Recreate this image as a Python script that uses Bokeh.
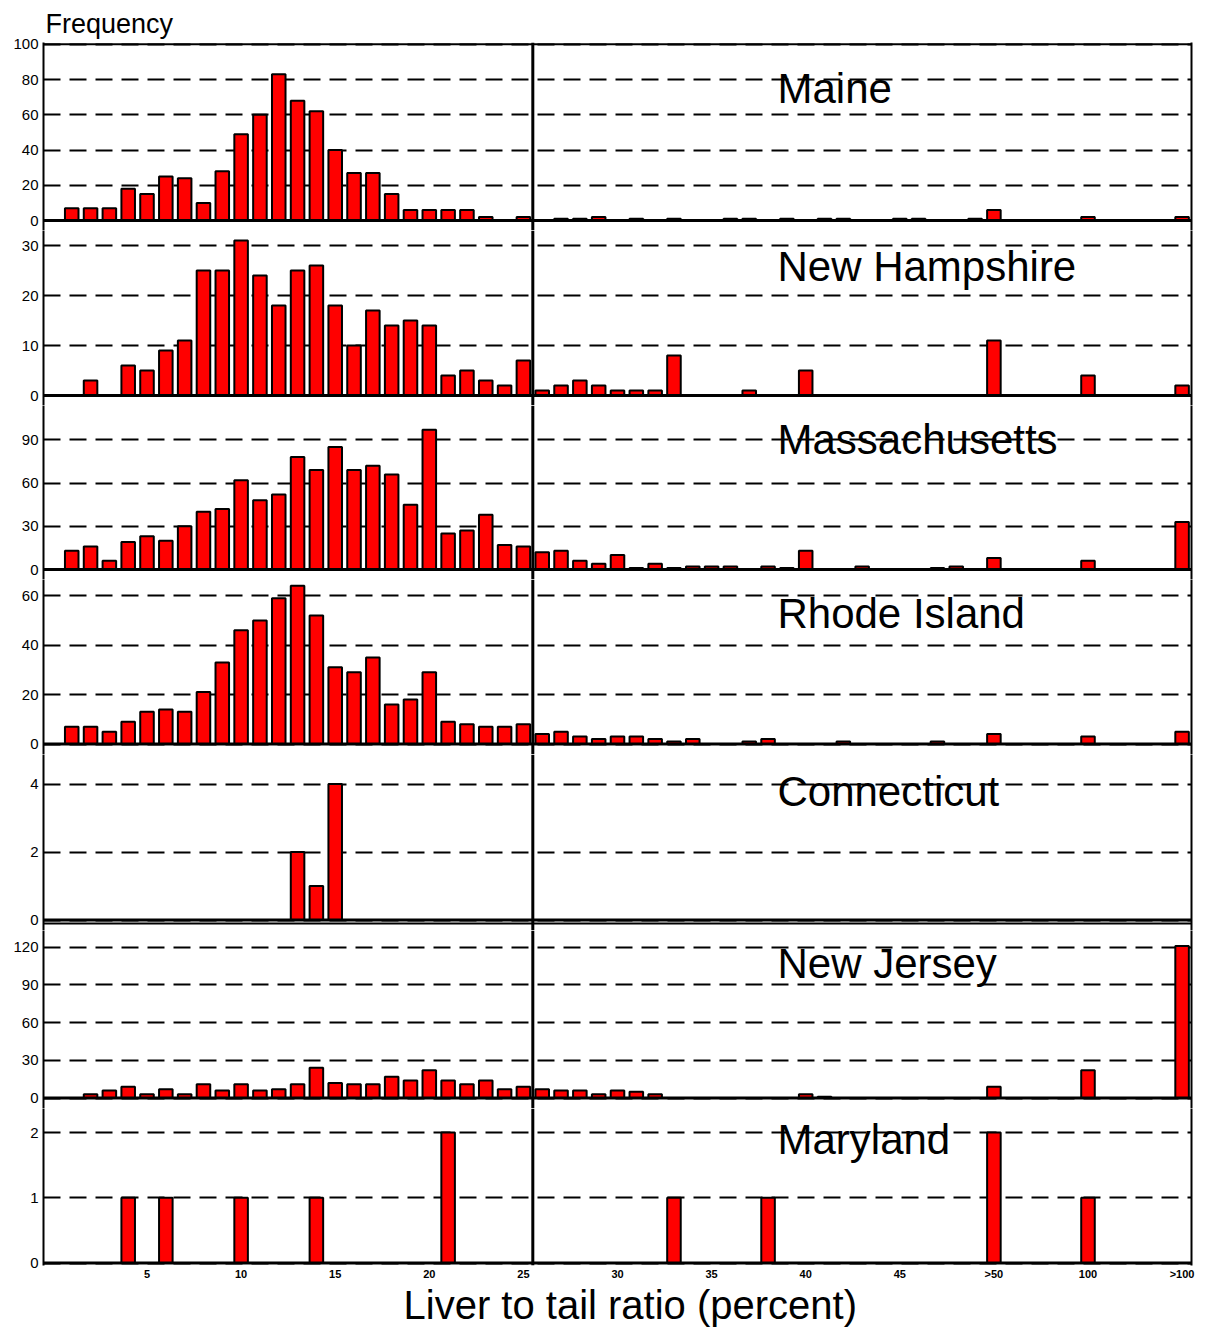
from bokeh.plotting import figure
from bokeh.layouts import column
from bokeh.models import Range1d, FixedTicker, LinearAxis, Span, Label, Title
from bokeh.embed import file_html
from bokeh.resources import INLINE

# ---------------------------------------------------------------------------
# Fish counts per liver-to-tail-ratio bin.  Bins 0..60: 0..49 are one percent
# wide, 50 holds ">50", 55 holds "100" and 60 holds ">100".
# ---------------------------------------------------------------------------
bins = list(range(61))

maine = [0, 7, 7, 7, 18, 15, 25, 24, 10, 28,
         49, 60, 83, 68, 62, 40, 27, 27, 15, 6,
         6, 6, 6, 2, 0, 2, 0, 1, 1, 2,
         0, 1, 0, 1, 0, 0, 1, 1, 0, 1,
         0, 1, 1, 0, 0, 1, 1, 0, 0, 1,
         6, 0, 0, 0, 0, 2, 0, 0, 0, 0, 2]

new_hampshire = [0, 0, 3, 0, 6, 5, 9, 11, 25, 25,
                 31, 24, 18, 25, 26, 18, 10, 17, 14, 15,
                 14, 4, 5, 3, 2, 7, 1, 2, 3, 2,
                 1, 1, 1, 8, 0, 0, 0, 1, 0, 0,
                 5, 0, 0, 0, 0, 0, 0, 0, 0, 0,
                 11, 0, 0, 0, 0, 4, 0, 0, 0, 0, 2]

massachusetts = [0, 13, 16, 6, 19, 23, 20, 30, 40, 42,
                 62, 48, 52, 78, 69, 85, 69, 72, 66, 45,
                 97, 25, 27, 38, 17, 16, 12, 13, 6, 4,
                 10, 1, 4, 1, 2, 2, 2, 0, 2, 1,
                 13, 0, 0, 2, 0, 0, 0, 1, 2, 0,
                 8, 0, 0, 0, 0, 6, 0, 0, 0, 0, 33]

rhode_island = [0, 7, 7, 5, 9, 13, 14, 13, 21, 33,
                46, 50, 59, 64, 52, 31, 29, 35, 16, 18,
                29, 9, 8, 7, 7, 8, 4, 5, 3, 2,
                3, 3, 2, 1, 2, 0, 0, 1, 2, 0,
                0, 0, 1, 0, 0, 0, 0, 1, 0, 0,
                4, 0, 0, 0, 0, 3, 0, 0, 0, 0, 5]

connecticut = [0, 0, 0, 0, 0, 0, 0, 0, 0, 0,
               0, 0, 0, 2, 1, 4, 0, 0, 0, 0,
               0, 0, 0, 0, 0, 0, 0, 0, 0, 0,
               0, 0, 0, 0, 0, 0, 0, 0, 0, 0,
               0, 0, 0, 0, 0, 0, 0, 0, 0, 0,
               0, 0, 0, 0, 0, 0, 0, 0, 0, 0, 0]

new_jersey = [0, 0, 3, 6, 9, 3, 7, 3, 11, 6,
              11, 6, 7, 11, 24, 12, 11, 11, 17, 14,
              22, 14, 11, 14, 7, 9, 7, 6, 6, 3,
              6, 5, 3, 0, 0, 0, 0, 0, 0, 0,
              3, 1, 0, 0, 0, 0, 0, 0, 0, 0,
              9, 0, 0, 0, 0, 22, 0, 0, 0, 0, 121]

maryland = [0, 0, 0, 0, 1, 0, 1, 0, 0, 0,
            1, 0, 0, 0, 1, 0, 0, 0, 0, 0,
            0, 2, 0, 0, 0, 0, 0, 0, 0, 0,
            0, 0, 0, 1, 0, 0, 0, 0, 1, 0,
            0, 0, 0, 0, 0, 0, 0, 0, 0, 0,
            2, 0, 0, 0, 0, 1, 0, 0, 0, 0, 0]

states = ["Maine", "New Hampshire", "Massachusetts", "Rhode Island",
          "Connecticut", "New Jersey", "Maryland"]
series = [maine, new_hampshire, massachusetts, rhode_island,
          connecticut, new_jersey, maryland]
y_ticks = [[0, 20, 40, 60, 80, 100], [0, 10, 20, 30], [0, 30, 60, 90],
           [0, 20, 40, 60], [0, 2, 4], [0, 30, 60, 90, 120], [0, 1, 2]]
name_y = [75.0, 25.9, 90.0, 52.9, 3.78, 107.3, 1.9]

x_tick_bins = [5, 10, 15, 20, 25, 30, 35, 40, 45, 50, 55, 60]
x_tick_labels = ["5", "10", "15", "20", "25", "30", "35", "40", "45",
                 ">50", "100", ">100"]

# ---------------------------------------------------------------------------
# Page geometry (pixels): frame edges of the stacked panels, where each
# panel's zero line sits, and the vertical scale of each panel.
# ---------------------------------------------------------------------------
FONT = "Liberation Sans"
frame_edges = [42, 230, 405, 579, 754, 930, 1108, 1265]
zero_px = [220, 395, 569, 743.5, 919.5, 1097.5, 1262.5]
px_per_unit = [1.7625, 5.0, 1.441, 2.472, 34.0, 1.256, 65.2]
maine_top_value = 100
nj_top_border_px = 923
split_bin = 26

figs = []
n = len(states)
for i in range(n):
    first, last = i == 0, i == n - 1
    top, bot = frame_edges[i], frame_edges[i + 1]
    z, s = zero_px[i], px_per_unit[i]
    y_start = -(bot - z) / s
    y_end = (z - top) / s

    p = figure(frame_width=1148, frame_height=bot - top,
               x_range=Range1d(0, 61), y_range=Range1d(y_start, y_end),
               output_backend="svg", toolbar_location=None,
               x_axis_location="below" if last else None,
               min_border_left=43, min_border_right=21,
               min_border_top=42 if first else 0,
               min_border_bottom=63 if last else 0,
               outline_line_color=None,
               background_fill_color="white", border_fill_color="white")

    # left value axis and dashed horizontal grid
    ax = p.yaxis[0]
    ax.ticker = FixedTicker(ticks=y_ticks[i])
    ax.axis_line_color = "black"
    ax.axis_line_width = 2
    ax.major_tick_line_color = None
    ax.minor_tick_line_color = None
    ax.major_tick_out = 0
    ax.major_tick_in = 0
    ax.minor_tick_out = 0
    ax.major_label_standoff = 5
    ax.major_label_text_font = FONT
    ax.major_label_text_font_size = "15px"
    ax.major_label_text_color = "black"

    p.ygrid.ticker = ax.ticker
    p.ygrid.grid_line_color = "black"
    p.ygrid.grid_line_width = 2
    p.ygrid.grid_line_dash = "17 9"
    p.xgrid.visible = False

    # right frame border
    rax = LinearAxis(ticker=FixedTicker(ticks=[]), axis_line_color="black",
                     axis_line_width=2, major_tick_line_color=None,
                     minor_tick_line_color=None, major_tick_out=0,
                     major_label_standoff=0, major_label_text_font_size="0px")
    p.add_layout(rax, "right")

    # histogram bars
    counts = series[i]
    xs = [b + 0.5 for b, c in zip(bins, counts) if c > 0]
    tops = [c for c in counts if c > 0]
    p.vbar(x=xs, top=tops, width=0.72, bottom=0,
           fill_color="#ff0000", line_color="black", line_width=2)

    # heavy baseline and the divider between the two halves of the scale
    p.add_layout(Span(location=0, dimension="width",
                      line_color="black", line_width=3))
    p.add_layout(Span(location=split_bin, dimension="height",
                      line_color="black", line_width=3))

    if first:
        p.add_layout(Span(location=maine_top_value, dimension="width",
                          line_color="black", line_width=2))
        p.title.text = "Frequency"
        p.title.text_font = FONT
        p.title.text_font_size = "27px"
        p.title.text_font_style = "normal"
        p.title.text_color = "black"
        p.title.align = "left"
        p.title.offset = 2
        p.title.standoff = 8
    if states[i] == "Connecticut":
        # top border of the next panel, just below this baseline
        p.add_layout(Span(location=(z - nj_top_border_px) / s,
                          dimension="width", line_color="black",
                          line_width=2))

    p.add_layout(Label(x=39, y=name_y[i], text=states[i], text_font=FONT,
                       text_font_size="42px", text_color="black",
                       text_baseline="alphabetic", text_align="left"))

    if last:
        xa = p.xaxis[0]
        xa.ticker = FixedTicker(ticks=[b + 0.5 for b in x_tick_bins])
        xa.major_label_overrides = {b + 0.5: lab for b, lab in
                                    zip(x_tick_bins, x_tick_labels)}
        xa.axis_line_color = None
        xa.major_tick_line_color = None
        xa.minor_tick_line_color = None
        xa.major_tick_out = 0
        xa.major_tick_in = 0
        xa.minor_tick_out = 0
        xa.major_label_standoff = 2
        xa.major_label_text_font = FONT
        xa.major_label_text_font_size = "11px"
        xa.major_label_text_font_style = "bold"
        xa.major_label_text_color = "black"
        p.add_layout(Title(text="Liver to tail ratio (percent)",
                           text_font=FONT, text_font_size="40px",
                           text_font_style="normal", text_color="black",
                           align="left", vertical_align="top",
                           offset=360, standoff=0), "below")

    figs.append(p)

layout = column(*figs, spacing=0)
open("out.html", "w").write(file_html(layout, INLINE, "Liver to tail ratio"))
